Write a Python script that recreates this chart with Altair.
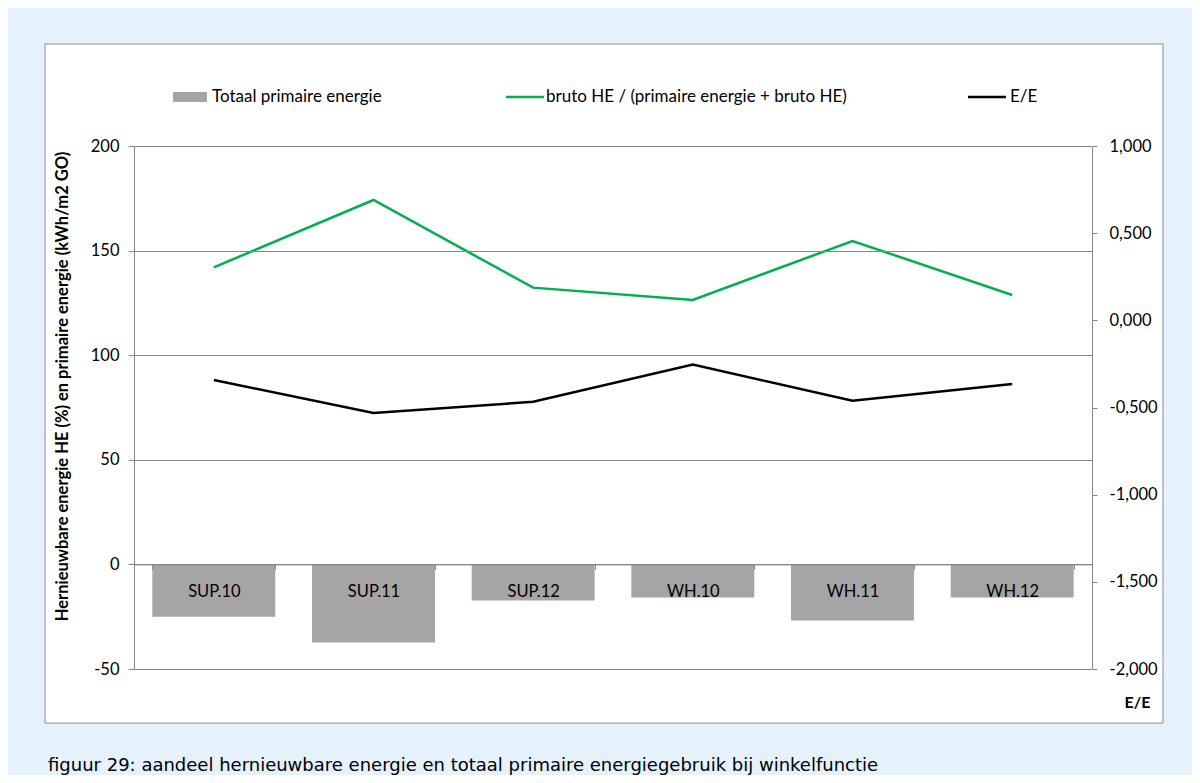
import altair as alt
import pandas as pd

# ---- data ----
categories = ["SUP.10", "SUP.11", "SUP.12", "WH.10", "WH.11", "WH.12"]
primary_energy = [-25.0, -37.3, -17.2, -15.8, -26.8, -15.8]
renewable_share = [142.0, 174.2, 132.3, 126.4, 154.6, 128.8]
ee_ratio = [-0.342, -0.532, -0.467, -0.254, -0.461, -0.365]
left_ticks = [-50, 0, 50, 100, 150, 200]
right_ticks = [-2.0, -1.5, -1.0, -0.5, 0.0, 0.5, 1.0]

legend_labels = ["Totaal primaire energie", "bruto HE / (primaire energie + bruto HE)", "E/E"]
left_title = "Hernieuwbare energie HE (%) en primaire energie (kWh/m2 GO)"
caption = "figuur 29: aandeel hernieuwbare energie en totaal primaire energiegebruik bij winkelfunctie"

# ---- styling ----
W, H = 958, 523
BG = "#E5F2FC"
GRID = "#888888"
BAR = "#A5A5A5"
GREEN = "#00B050"
FONT = "Lato"
TICK_FS = 16.5

df = pd.DataFrame({"cat": categories, "prim": primary_energy,
                   "he": renewable_share, "ee": ee_ratio})
one = pd.DataFrame({"k": [0]})

zero_pos = H * 200 / 250.0

x_enc = alt.X("cat:N", sort=categories,
              scale=alt.Scale(paddingInner=0.23, paddingOuter=0.115),
              axis=alt.Axis(title=None, orient="bottom", offset=-(H - zero_pos),
                            tickBand="extent", tickSize=5, tickColor=GRID,
                            domainColor=GRID, labelFont=FONT, labelFontSize=TICK_FS,
                            labelColor="#000000", labelPadding=14, labelAngle=0,
                            zindex=1))

left_axis = alt.Axis(values=left_ticks, orient="left", grid=True, gridColor=GRID,
                     gridOpacity=1, domainColor=GRID, tickColor=GRID, tickSize=6,
                     labelFont=FONT, labelFontSize=TICK_FS, labelColor="#000000",
                     labelPadding=9,
                     labelExpr="replace(format(datum.value, 'd'), '\u2212', '-')",
                     title=left_title, titleFont=FONT,
                     titleFontSize=16.5, titleFontWeight="bold", titleColor="#000000",
                     titlePadding=20, titleY=240, zindex=1)
left_scale = alt.Scale(domain=[-50, 200], nice=False, zero=False)

bars = alt.Chart(df).mark_bar(color=BAR).encode(
    x=x_enc,
    y=alt.Y("prim:Q", scale=left_scale, axis=left_axis),
    y2=alt.datum(0),
)
green = alt.Chart(df).mark_line(color=GREEN, strokeWidth=2.5).encode(
    x=alt.X("cat:N", sort=categories),
    y=alt.Y("he:Q", scale=left_scale, axis=left_axis),
)
black = alt.Chart(df).mark_line(color="#000000", strokeWidth=2.5).encode(
    x=alt.X("cat:N", sort=categories),
    y=alt.Y("ee:Q", scale=alt.Scale(domain=[-2, 1], nice=False, zero=False),
            axis=alt.Axis(orient="right", values=right_ticks, grid=False,
                          domainColor=GRID, tickColor=GRID, tickSize=5,
                          labelFont=FONT, labelFontSize=TICK_FS, labelColor="#000000",
                          labelPadding=12,
                          labelExpr="replace(replace(format(datum.value, '.3f'), '.', ','), '\u2212', '-')",
                          title="E/E", titleAngle=0, titleX=45, titleY=556,
                          titleAlign="center", titleBaseline="middle",
                          titleFont=FONT, titleFontSize=16, titleFontWeight="bold",
                          titleColor="#000000", zindex=1)),
)

main = alt.layer(alt.layer(bars, green), black).resolve_scale(y="independent")

frame = alt.Chart(one).mark_rect(fill="white", stroke="#8C8C8C", strokeWidth=1).encode(
    x=alt.value(-89), x2=alt.value(1029), y=alt.value(-102), y2=alt.value(577))

# custom legend
leg_y = -49
leg_rect = alt.Chart(one).mark_rect(color=BAR).encode(
    x=alt.value(39), x2=alt.value(73), y=alt.value(leg_y - 5), y2=alt.value(leg_y + 5))
leg_green = alt.Chart(one).mark_rule(color=GREEN, strokeWidth=2.5).encode(
    x=alt.value(372), x2=alt.value(410), y=alt.value(leg_y))
leg_black = alt.Chart(one).mark_rule(color="#000000", strokeWidth=2.5).encode(
    x=alt.value(834), x2=alt.value(872), y=alt.value(leg_y))

def label(txt, xpos):
    return alt.Chart(pd.DataFrame({"t": [txt]})).mark_text(
        align="left", baseline="middle", font=FONT, fontSize=17, color="#000000"
    ).encode(x=alt.value(xpos), y=alt.value(leg_y), text="t:N")

leg_t1 = label(legend_labels[0], 78)
leg_t2 = label(legend_labels[1], 412)
leg_t3 = label(legend_labels[2], 876)

cap = alt.Chart(pd.DataFrame({"t": [caption]})).mark_text(
    align="left", baseline="middle", font="DejaVu Sans", fontSize=18, color="#000000"
).encode(x=alt.value(-86), y=alt.value(620), text="t:N")

chart = alt.layer(frame, main, leg_rect, leg_green, leg_black, leg_t1, leg_t2, leg_t3, cap).properties(
    width=W, height=H,
    padding={"left": 126, "top": 138, "right": 100, "bottom": 106},
    autosize=alt.AutoSizeParams(type="none"),
    background=BG,
).configure_view(strokeWidth=0)

chart.save("out.html", embed_options={"renderer": "svg", "actions": False})
